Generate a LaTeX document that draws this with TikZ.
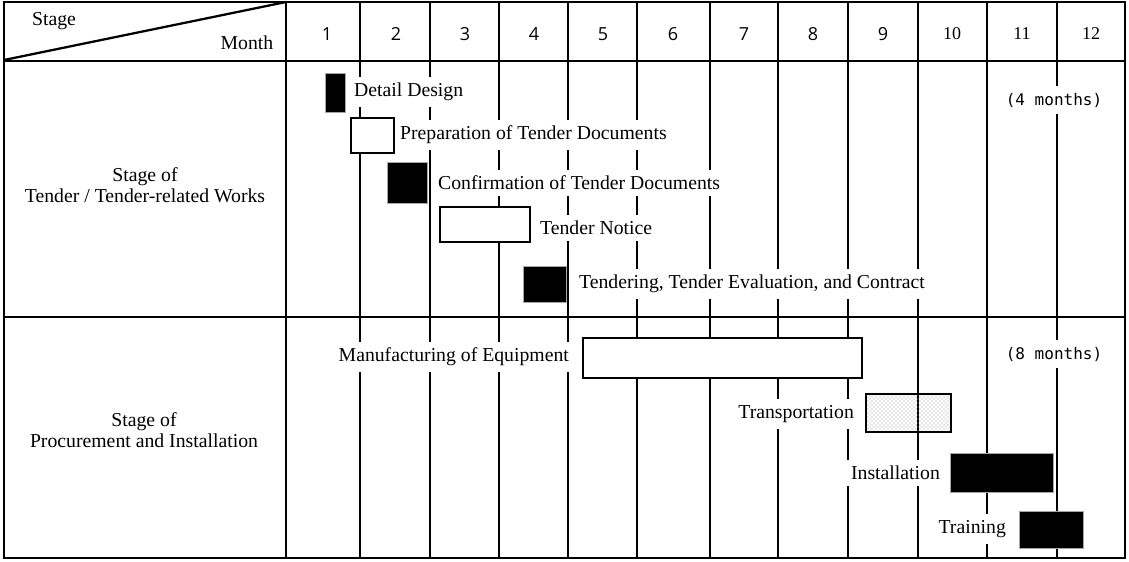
\documentclass[tikz,border=0pt]{standalone}
\usepackage{fontspec}
\setmainfont{Liberation Serif}
\newfontfamily\monthfont{Open Sans}
\newfontfamily\durfont{DejaVu Sans Mono}
\usetikzlibrary{patterns}

\begin{document}
\begin{tikzpicture}[x=0.75pt, y=-0.75pt, line width=1.7pt,
  task/.style={fill=white, inner xsep=3pt, inner ysep=4.5pt,
    font=\fontsize{14.8}{17}\selectfont},
  stagetext/.style={align=center, font=\fontsize{14.8}{15.5}\selectfont},
  month/.style={font=\monthfont\fontsize{13.5}{15}\selectfont},
  monthrm/.style={font=\fontsize{13.5}{15}\selectfont},
  duration/.style={fill=white, inner xsep=3pt, inner ysep=5pt,
    font=\durfont\fontsize{12}{14}\selectfont},
  solidbar/.style={fill=black, draw=gray!70, line width=0.6pt},
  openbar/.style={fill=white, draw=black, line width=1.7pt},
  dotbar/.style={pattern=crosshatch dots, pattern color=gray!85, draw=black, line width=1.7pt}]
\useasboundingbox (0,0) rectangle (1129,561);

% frame and header
\draw (4,2) rectangle (1125,558);
\draw (4,61) -- (1125,61);
\draw (4,317) -- (1125,317);
\draw (286,2) -- (286,558);
\draw (4,60) -- (286,2);
\node (stage) at (54,21) {\fontsize{14.8}{17}\selectfont Stage};
\node (month) at (247,43) {\fontsize{14.8}{17}\selectfont Month};

% month columns
\foreach \x in {360,430,499,568,637,710,778,848,918,987,1057}
  \draw (\x,2) -- (\x,558);
\foreach \m/\x in {1/327,2/396,3/465,4/534,5/603,6/673,7/744,8/813,9/883}
  \node [month] (m\m) at (\x,34) {\m};
\foreach \m/\x in {10/952,11/1022,12/1091}
  \node [monthrm] (m\m) at (\x,34) {\m};

% stage names
\node [stagetext] (tender) at (145,185) {Stage of\\Tender / Tender-related Works};
\node [stagetext] (procure) at (144,430) {Stage of\\Procurement and Installation};

% task labels
\node [task, anchor=west] (ldetail) at (349,92) {Detail Design};
\node [task, anchor=west] (lprep) at (395,135) {Preparation of Tender Documents};
\node [task, anchor=west] (lconf) at (433,183) {Confirmation of Tender Documents};
\node [task, anchor=west] (lnotice) at (535,228) {Tender Notice};
\node [task, anchor=west] (ltender) at (574,284) {Tendering, Tender Evaluation, and Contract};
\node [task, anchor=east] (lmanu) at (574,357) {Manufacturing of Equipment};
\node [task, anchor=east] (ltrans) at (859,414) {Transportation};
\node [task, anchor=east] (linst) at (945,473) {Installation};
\node [task, anchor=east] (ltrain) at (1011,529) {Training};
\node [duration] (dur1) at (1054,100) {(4 months)};
\node [duration] (dur2) at (1054,354) {(8 months)};

% bars
\draw [solidbar] (325,73) rectangle (345,112);
\draw [openbar] (351,118) rectangle (394,153);
\draw [solidbar] (387,162) rectangle (427,203);
\draw [openbar] (440,207) rectangle (530,242);
\draw [solidbar] (523,266) rectangle (566,302);
\draw [openbar, line width=2.1pt] (583,338) rectangle (862,378);
\draw [dotbar] (866,394) rectangle (951,432);
\draw [solidbar] (950,453) rectangle (1053,492);
\draw [solidbar] (1019,511) rectangle (1083,548);
\end{tikzpicture}
\end{document}
